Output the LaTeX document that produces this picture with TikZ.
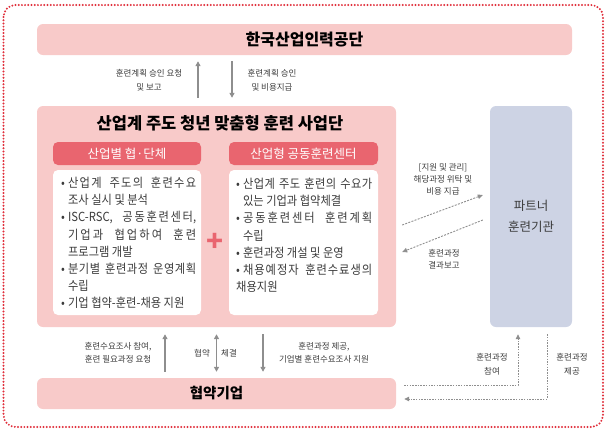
\documentclass[tikz,border=0pt]{standalone}
\usepackage{fontspec}
\setmainfont{Noto Sans CJK KR}
\newfontfamily\listfont{Noto Sans CJK KR}[FakeStretch=0.9]
\usetikzlibrary{arrows.meta}

\definecolor{boxpink}{HTML}{F8CAC9}
\definecolor{headred}{HTML}{E9656F}
\definecolor{partnerblue}{HTML}{CDD3E4}
\definecolor{dotred}{HTML}{E0303C}
\definecolor{arrowgray}{HTML}{8E8E8E}
\definecolor{textgray}{HTML}{3C3C3C}

\newcommand{\itm}{\par\noindent\hangindent=0.55em\hangafter=1\makebox[0.55em][l]{•}}
\newcommand{\kojustify}{\XeTeXlinebreaklocale "ko"\XeTeXlinebreakskip=0pt plus 0.3pt\relax}

\tikzset{
  pinkbox/.style={fill=boxpink, rounded corners=6pt, minimum height=31pt},
  headbox/.style={fill=headred, rounded corners=5pt, text=white, minimum height=23pt, font=\fontsize{12.5}{13}\selectfont},
  whitebox/.style={fill=white, rounded corners=5pt},
  itemlist/.style={anchor=north west, inner sep=0pt, text width=135pt, align=justify, text=textgray, font=\listfont\fontsize{12.5}{17.2}\selectfont\kojustify},
  lbl/.style={text=textgray, align=center, font=\fontsize{8.5}{14}\selectfont},
  arr/.style={draw=arrowgray, line width=1.3pt, -{Triangle[length=5pt,width=5pt]}},
  twoway/.style={draw=arrowgray, line width=1.3pt, {Triangle[length=5pt,width=5pt]}-{Triangle[length=5pt,width=5pt]}},
  dasharr/.style={draw=arrowgray, line width=0.9pt, dash pattern=on 2pt off 1.3pt, -{Triangle[length=5pt,width=4.5pt]}},
  finedash/.style={draw=arrowgray, line width=0.8pt, dash pattern=on 1.5pt off 1.2pt, -{Triangle[length=5pt,width=4.5pt]}},
}

\begin{document}
\begin{tikzpicture}[x=1pt, y=-1pt]
    \useasboundingbox (0,0) rectangle (610,432);
    \draw[dotred, line width=2.2pt, line cap=round, dash pattern=on 0pt off 3.2pt, rounded corners=12pt] (3.5,5) rectangle (603,427);

    % boxes
    \node[pinkbox, minimum width=535pt, font=\fontsize{16}{16}\selectfont\bfseries] (hrdk) at (304.5,39.5) {한국산업인력공단};
    \node[pinkbox, minimum width=359pt, minimum height=221pt] (team) at (216.5,216.5) {};
    \node[font=\fontsize{16.5}{17}\selectfont\bfseries] (teamtitle) at (220,123.5) {산업계 주도 청년 맞춤형 훈련 사업단};
    \node[fill=partnerblue, rounded corners=6pt, minimum width=82pt, minimum height=221pt, align=center, text=textgray, font=\fontsize{12.5}{21}\selectfont] (partner) at (531,216.5) {파트너\\훈련기관};
    \node[pinkbox, minimum width=359pt, font=\fontsize{14.5}{15}\selectfont\bfseries] (firm) at (216.5,393.5) {협약기업};

    \node[headbox, minimum width=148pt] (headL) at (127,153.5) {산업별 협·단체};
    \node[headbox, minimum width=149pt] (headR) at (303.5,153.5) {산업형 공동훈련센터};
    \node[whitebox, minimum width=148pt, minimum height=145pt] (boxL) at (127,242.5) {};
    \node[whitebox, minimum width=149pt, minimum height=145pt] (boxR) at (303.5,242.5) {};
    \node[text=headred, font=\fontsize{28}{28}\selectfont\bfseries] (plus) at (215,242) {+};

    \node[itemlist] (listL) at (61,170) {
        \itm 산업계~주도의~훈련수요\linebreak 조사 실시 및 분석
        \itm ISC-RSC,~공동훈련센터,\linebreak 기업과~협업하여~훈련\linebreak 프로그램 개발
        \itm 분기별~훈련과정~운영계획\linebreak 수립
        \itm 기업 협약-훈련-채용 지원};
    \node[itemlist, text width=136pt] (listR) at (236,171) {
        \itm 산업계~주도~훈련의~수요가\linebreak 있는 기업과 협약체결
        \itm 공동훈련센터~훈련계획\linebreak 수립
        \itm 훈련과정 개설 및 운영
        \itm 채용예정자~훈련수료생의\linebreak 채용지원};

    % top arrows
    \coordinate (upA) at ([xshift=-18.5pt]team.north);
    \coordinate (dnA) at ([xshift=15.5pt]team.north);
    \draw[arr, shorten <=8pt, shorten >=6pt] (upA) -- (upA |- hrdk.south);
    \draw[arr, shorten <=6pt, shorten >=8pt] (dnA |- hrdk.south) -- (dnA);
    \node[lbl] (reqlbl) at (149,80) {훈련계획 승인 요청\\및 보고};
    \node[lbl] (paylbl) at (272,80) {훈련계획 승인\\및 비용지급};

    % partner arrows
    \draw[dasharr] ([xshift=6pt,yshift=-8.5pt]team.east) -- ([xshift=-7pt,yshift=21.5pt]partner.west);
    \draw[dasharr] ([xshift=-7pt,yshift=-3.5pt]partner.west) -- ([xshift=6pt,yshift=-35.5pt]team.east);
    \node[lbl, font=\fontsize{8.5}{12}\selectfont] (mgmtlbl) at (443,179) {[지원 및 관리]\\해당과정 위탁 및\\비용 지급};
    \node[lbl, font=\fontsize{8.5}{12}\selectfont] (replbl) at (444,259) {훈련과정\\결과보고};

    % bottom arrows
    \draw[arr, shorten <=6pt, shorten >=7pt] ([xshift=-51.5pt]firm.north) -- ([xshift=-51.5pt]team.south);
    \draw[twoway, shorten <=6pt, shorten >=7pt] (firm.north) -- (team.south);
    \draw[arr, shorten <=7pt, shorten >=6pt] ([xshift=46.5pt]team.south) -- ([xshift=46.5pt]firm.north);
    \node[lbl, font=\fontsize{8.5}{13}\selectfont] (needlbl) at (118,352.5) {훈련수요조사 참여,\\훈련 필요과정 요청};
    \node[lbl] (agrlbl) at (202,353) {협약};
    \node[lbl] (signlbl) at (229,353) {체결};
    \node[lbl, font=\fontsize{8.5}{13}\selectfont] (offerlbl) at (324,352.5) {훈련과정 제공,\\기업별 훈련수요조사 지원};

    \draw[finedash] ([xshift=8pt,yshift=8.5pt]firm.east) -| ([xshift=-13pt,yshift=-7pt]partner.south);
    \draw[finedash] ([xshift=16pt,yshift=-7pt]partner.south) |- ([xshift=8pt,yshift=-5.5pt]firm.east);
    \node[lbl] (joinlbl) at (492,364) {훈련과정\\참여};
    \node[lbl] (givelbl) at (572,364) {훈련과정\\제공};

\end{tikzpicture}
\end{document}
